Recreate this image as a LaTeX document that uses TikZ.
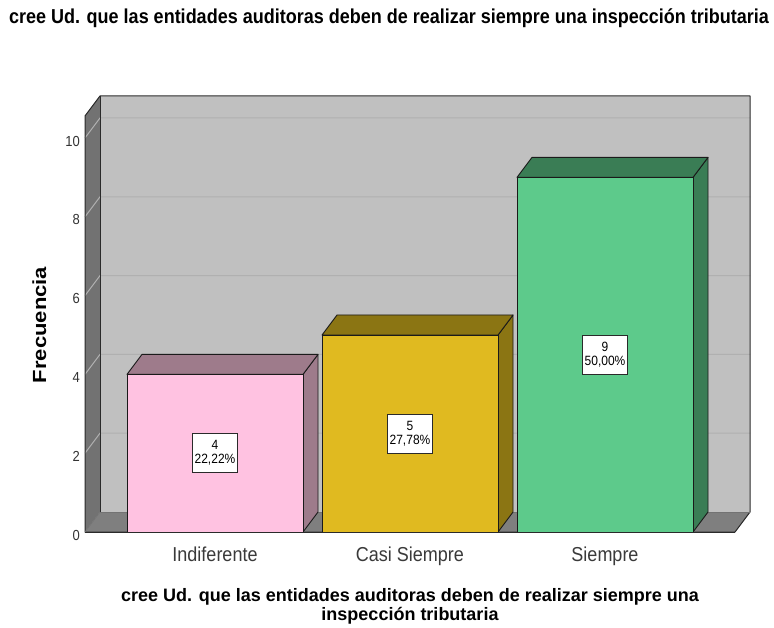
\documentclass[tikz,border=0pt]{standalone}
\usepackage{fontspec}
\setmainfont{Liberation Sans}
\usepackage{graphicx}
\definecolor{backwall}{HTML}{C0C0C0}
\definecolor{sidewall}{HTML}{727272}
\definecolor{floorc}{HTML}{7F7F7F}
\definecolor{gridc}{HTML}{B0B0B0}
\definecolor{edgec}{HTML}{2A2A2A}
\definecolor{barline}{HTML}{1A1A1A}
\definecolor{pinkF}{HTML}{FFC2E1}
\definecolor{pinkT}{HTML}{9E7B8B}
\definecolor{goldF}{HTML}{E0BA20}
\definecolor{goldT}{HTML}{8B7513}
\definecolor{greenF}{HTML}{5DCA8B}
\definecolor{greenT}{HTML}{3A7D55}
\definecolor{ticktext}{HTML}{333333}
\definecolor{cattext}{HTML}{3A3A3A}
\newcommand{\tall}[1]{\scalebox{1}[1.12]{#1}}
\tikzset{
  barface/.style={draw=barline, line width=0.9pt, line join=round},
  valbox/.style={draw=edgec, fill=white, line width=0.7pt, align=center,
    inner xsep=2pt, inner ysep=3pt, minimum height=39pt,
    font=\fontsize{12}{14}\selectfont},
  ticklab/.style={anchor=east, text=ticktext, font=\fontsize{13}{15}\selectfont, inner sep=0pt},
  catlab/.style={anchor=base, text=cattext, font=\fontsize{18}{20}\selectfont, inner sep=0pt},
  titlelab/.style={font=\bfseries\fontsize{18}{18.5}\selectfont, inner sep=0pt, text=black},
  gridline/.style={draw=gridc, line width=1pt}
}
\newcommand{\mybar}[6]{%
  \pgfmathsetmacro{\yt}{532-#2*39.4}
  \filldraw[barface, fill=#4] (#1+176,532) -- (#1+191,512) -- (#1+191,\yt-20) -- (#1+176,\yt) -- cycle;
  \filldraw[barface, fill=#4] (#1,\yt) -- (#1+15,\yt-20) -- (#1+191,\yt-20) -- (#1+176,\yt) -- cycle;
  \filldraw[barface, fill=#3] (#1,532) rectangle (#1+176,\yt);
  \node[valbox] (#5) at (#1+88,{(532+\yt)/2}) {\tall{#2}\\\tall{#6}};
}
\begin{document}
\begin{tikzpicture}[x=1pt,y=-1pt]
\useasboundingbox[fill=white] (0,0) rectangle (774,628);
% walls
\fill[backwall] (100,96) rectangle (750,512);
\fill[sidewall] (85,116) -- (100,96) -- (100,512) -- (85,532) -- cycle;
% gridlines
\foreach \v in {2,4,6,8,10}{
  \draw[gridline] (85,{532-\v*39.4}) -- (100,{512-\v*39.4}) -- (750,{512-\v*39.4});
}
\fill[floorc] (85,532) -- (100,512) -- (750,512) -- (735,532) -- cycle;
% wall edges
\draw[edgec, line width=1pt, line join=round] (85,532) -- (85,116) -- (100,96) -- (750,96) -- (750,512) -- (735,532) -- cycle;
\draw[edgec, line width=1pt] (100,96) -- (100,512);
\draw[black!55, line width=0.6pt] (100,512) -- (750,512);
\draw[black!55, line width=0.6pt] (100,512) -- (85,532);
% bars
\mybar{127}{4}{pinkF}{pinkT}{vA}{22,22\%}
\mybar{322}{5}{goldF}{goldT}{vB}{27,78\%}
\mybar{517}{9}{greenF}{greenT}{vC}{50,00\%}
\draw[edgec, line width=1pt] (85,532) -- (735,532);
% tick labels
\foreach \v in {0,2,4,6,8,10}{
  \node[ticklab] (t\v) at (80,{535-\v*39.4}) {\tall{\v}};
}
% category labels
\node[catlab] (cA) at (215,561) {\tall{Indiferente}};
\node[catlab] (cB) at (410,561) {\tall{Casi Siempre}};
\node[catlab] (cC) at (605,561) {\tall{Siempre}};
% axis titles
\node[titlelab, rotate=90, anchor=base, font=\bfseries\fontsize{19}{20}\selectfont] (ytitle) at (46,325) {\scalebox{1.16}[1]{Frecuencia}};
\node[titlelab, anchor=base] (title) at (389,24) {\tall{cree Ud. que las entidades auditoras deben de realizar siempre una inspección tributaria}};
\node[titlelab, align=center, font=\bfseries\fontsize{18}{19.5}\selectfont] (xtitle) at (410,606.5) {cree Ud. que las entidades auditoras deben de realizar siempre una\\inspección tributaria};
\end{tikzpicture}
\end{document}
